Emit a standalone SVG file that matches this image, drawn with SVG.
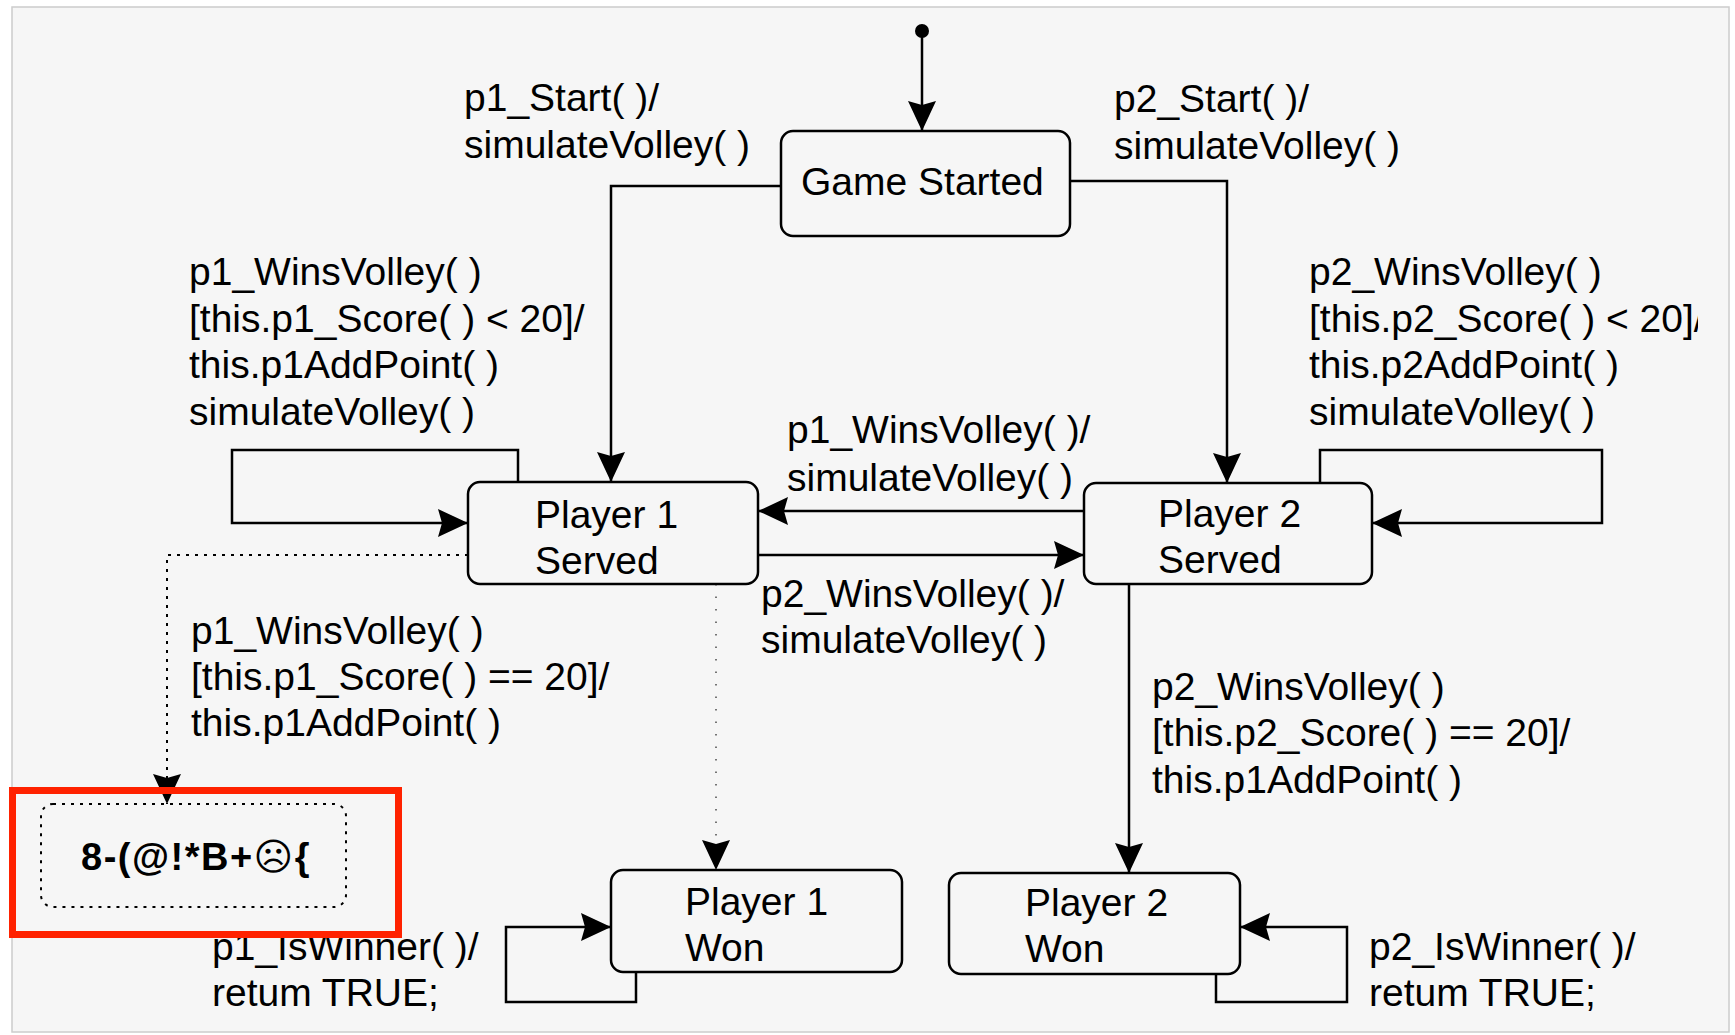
<svg xmlns="http://www.w3.org/2000/svg" width="1735" height="1035" viewBox="0 0 1735 1035">
<defs>
<style>
.t{font-family:"Liberation Sans",Arial,sans-serif;font-size:39px;fill:#000}
.node{fill:#f6f6f6;stroke:#000;stroke-width:2.5}
.c{fill:none;stroke:#000;stroke-width:2.5}
.dot{fill:none;stroke:#000;stroke-width:2;stroke-dasharray:3 6}
.faint{fill:none;stroke:#666;stroke-width:1.8;stroke-dasharray:1.5 11}
</style>
<marker id="ah" markerUnits="userSpaceOnUse" markerWidth="31" markerHeight="28" refX="30" refY="14" orient="auto">
<path d="M0,0 L30,14 L0,28 L4,14 z" fill="#000"/>
</marker>
<clipPath id="clipR"><rect x="1290" y="240" width="408" height="200"/></clipPath>
</defs>
<rect x="12" y="7" width="1717" height="1025" fill="#f6f6f6" stroke="#cccccc" stroke-width="1.5"/>

<g id="connectors">
<circle cx="922" cy="31" r="7" fill="#000"/>
<path class="c" d="M922,31 V131" marker-end="url(#ah)"/>
<path class="c" d="M781,186 H611 V482" marker-end="url(#ah)"/>
<path class="c" d="M1070,181 H1227 V483" marker-end="url(#ah)"/>
<path class="c" d="M518,482 V450 H232 V523 H468" marker-end="url(#ah)"/>
<path class="c" d="M1084,511 H758" marker-end="url(#ah)"/>
<path class="c" d="M758,555 H1084" marker-end="url(#ah)"/>
<path class="c" d="M1320,483 V450 H1602 V523 H1372" marker-end="url(#ah)"/>
<path class="dot" d="M468,555 H167 V804" marker-end="url(#ah)"/>
<path class="faint" d="M716,584 V870" marker-end="url(#ah)"/>
<path class="c" d="M636,971 V1002 H506 V927 H611" marker-end="url(#ah)"/>
<path class="c" d="M1129,584 V873" marker-end="url(#ah)"/>
<path class="c" d="M1216,974 V1002 H1347 V927 H1240" marker-end="url(#ah)"/>
</g>

<g id="labels">
<text class="t" x="464" y="111">p1_Start( )/</text>
<text class="t" x="464" y="158">simulateVolley( )</text>
<text class="t" x="1114" y="112">p2_Start( )/</text>
<text class="t" x="1114" y="159">simulateVolley( )</text>
<text class="t" x="189" y="285">p1_WinsVolley( )</text>
<text class="t" x="189" y="331.5">[this.p1_Score( ) &lt; 20]/</text>
<text class="t" x="189" y="378">this.p1AddPoint( )</text>
<text class="t" x="189" y="425">simulateVolley( )</text>
<g clip-path="url(#clipR)">
<text class="t" x="1309" y="285">p2_WinsVolley( )</text>
<text class="t" x="1309" y="331.5">[this.p2_Score( ) &lt; 20]/</text>
<text class="t" x="1309" y="378">this.p2AddPoint( )</text>
<text class="t" x="1309" y="425">simulateVolley( )</text>
</g>
<text class="t" x="787" y="443">p1_WinsVolley( )/</text>
<text class="t" x="787" y="491">simulateVolley( )</text>
<text class="t" x="761" y="607">p2_WinsVolley( )/</text>
<text class="t" x="761" y="653">simulateVolley( )</text>
<text class="t" x="191" y="644">p1_WinsVolley( )</text>
<text class="t" x="191" y="690">[this.p1_Score( ) == 20]/</text>
<text class="t" x="191" y="736">this.p1AddPoint( )</text>
<text class="t" x="1152" y="700">p2_WinsVolley( )</text>
<text class="t" x="1152" y="746">[this.p2_Score( ) == 20]/</text>
<text class="t" x="1152" y="793">this.p1AddPoint( )</text>
<text class="t" x="212" y="960">p1_IsWinner( )/</text>
<text class="t" x="212" y="1006">retum TRUE;</text>
<text class="t" x="1369" y="960">p2_IsWinner( )/</text>
<text class="t" x="1369" y="1006">retum TRUE;</text>
</g>

<g id="game-started">
<rect class="node" x="781" y="131" width="289" height="105" rx="12"/>
<text class="t" x="801" y="195">Game Started</text>
</g>
<g id="player1-served">
<rect class="node" x="468" y="482" width="290" height="102" rx="12"/>
<text class="t" x="535" y="528">Player 1</text>
<text class="t" x="535" y="574">Served</text>
</g>
<g id="player2-served">
<rect class="node" x="1084" y="483" width="288" height="101" rx="12"/>
<text class="t" x="1158" y="527">Player 2</text>
<text class="t" x="1158" y="573">Served</text>
</g>
<g id="player1-won">
<rect class="node" x="611" y="870" width="291" height="102" rx="12"/>
<text class="t" x="685" y="915">Player 1</text>
<text class="t" x="685" y="961">Won</text>
</g>
<g id="player2-won">
<rect class="node" x="949" y="873" width="291" height="101" rx="12"/>
<text class="t" x="1025" y="916">Player 2</text>
<text class="t" x="1025" y="962">Won</text>
</g>
<g id="error-state">
<rect x="41" y="804" width="305" height="103" rx="12" fill="#f6f6f6" stroke="#000" stroke-width="2" stroke-dasharray="3 6"/>
<text x="196" y="870" text-anchor="middle" font-family="'Liberation Sans','DejaVu Sans',sans-serif" font-weight="bold" font-size="38" letter-spacing="1.5">8-(@!*B+☹{</text>
</g>
<g id="highlight">
<rect x="12.5" y="790.5" width="386" height="144" fill="none" stroke="#ff2200" stroke-width="7"/>
</g>
</svg>
